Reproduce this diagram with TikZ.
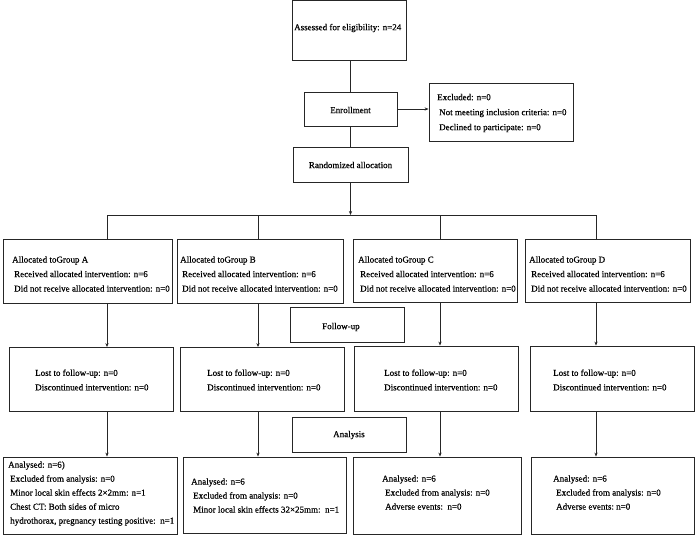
\documentclass[tikz,border=0pt]{standalone}
\usepackage{fontspec}
\setmainfont{Liberation Serif}[FakeBold=0.5]
\usetikzlibrary{arrows.meta}
\begin{document}
\begin{tikzpicture}[x=1pt,y=-1pt,
  box/.style={draw=black!85,line width=0.8pt,inner sep=0pt},
  txt/.style={anchor=west,align=left,inner sep=0pt,font=\fontsize{9}{14.5}\selectfont},
  ln/.style={draw=black!85,line width=0.9pt},
  arr/.style={ln,-{Stealth[length=4pt,width=3.2pt]}}]
\useasboundingbox (0,0) rectangle (696,536);
% top column
\node[box,minimum width=114pt,minimum height=60pt] (assess) at (349,30.5) {};
\node[txt] (tassess) at (294,28) {Assessed for eligibility: n=24};
\node[box,minimum width=93pt,minimum height=34pt] (enroll) at (350.5,109) {};
\node[txt,anchor=center] (tenroll) at (350.5,110) {Enrollment};
\node[box,minimum width=144pt,minimum height=58pt] (excl) at (501,112) {};
\node[txt,font=\fontsize{9}{15}\selectfont] (texcl) at (437,113) {Excluded: n=0\\\hspace*{2pt}Not meeting inclusion criteria: n=0\\\hspace*{2pt}Declined to participate: n=0};
\node[box,minimum width=115pt,minimum height=35pt] (rand) at (350.5,164.5) {};
\node[txt,anchor=center] (trand) at (350.5,165) {Randomized allocation};
\draw[ln] (assess.south -| enroll.north) -- (enroll.north);
\draw[arr] (enroll.east) -- (excl.west |- enroll.east);
\draw[ln] (enroll.south) -- (rand.north -| enroll.south);
% bar
\coordinate (bl) at (107,215);
\coordinate (br) at (596,215);
\coordinate (xA) at (107,0);
\coordinate (xB) at (258,0);
\coordinate (xC) at (440,0);
\coordinate (xD) at (596,0);
\draw[arr] (rand.south) -- (rand.south |- bl);
\draw[ln] (bl) -- (br);
% group boxes
\node[box,minimum width=169pt,minimum height=64pt] (gA) at (87.5,271) {};
\node[box,minimum width=166pt,minimum height=64pt] (gB) at (260,271) {};
\node[box,minimum width=164pt,minimum height=63pt] (gC) at (435,270.5) {};
\node[box,minimum width=165pt,minimum height=63pt] (gD) at (607.5,270.5) {};
\node[txt] (tgA) at (12,274) {Allocated toGroup A\\\hspace*{2pt}Received allocated intervention: n=6\\\hspace*{2pt}Did not receive allocated intervention: n=0};
\node[txt] (tgB) at (180,274) {Allocated toGroup B\\\hspace*{2pt}Received allocated intervention: n=6\\\hspace*{2pt}Did not receive allocated intervention: n=0};
\node[txt] (tgC) at (358,274) {Allocated toGroup C\\\hspace*{2pt}Received allocated intervention: n=6\\\hspace*{2pt}Did not receive allocated intervention: n=0};
\node[txt] (tgD) at (529,274) {Allocated toGroup D\\\hspace*{2pt}Received allocated intervention: n=6\\\hspace*{2pt}Did not receive allocated intervention: n=0};
\draw[ln] (bl) -- (bl |- gA.north);
\draw[ln] (xB |- bl) -- (xB |- gB.north);
\draw[ln] (xC |- bl) -- (xC |- gC.north);
\draw[ln] (br) -- (br |- gD.north);
% follow-up
\node[box,minimum width=114pt,minimum height=35pt] (follow) at (347,324.5) {};
\node[txt] (tfollow) at (322,327) {Follow-up};
% lost boxes
\node[box,minimum width=164pt,minimum height=64pt] (lA) at (91,379.5) {};
\node[box,minimum width=164pt,minimum height=64pt] (lB) at (262,379.5) {};
\node[box,minimum width=164pt,minimum height=65pt] (lC) at (436,378.5) {};
\node[box,minimum width=164pt,minimum height=65pt] (lD) at (612,378.5) {};
\node[txt] (tlA) at (35,380) {Lost to follow-up: n=0\\Discontinued intervention: n=0};
\node[txt] (tlB) at (207,380) {Lost to follow-up: n=0\\Discontinued intervention: n=0};
\node[txt] (tlC) at (384,380) {Lost to follow-up: n=0\\Discontinued intervention: n=0};
\node[txt] (tlD) at (553,380) {Lost to follow-up: n=0\\Discontinued intervention: n=0};
\draw[arr] (xA |- gA.south) -- (xA |- lA.north);
\draw[arr] (xB |- gB.south) -- (xB |- lB.north);
\draw[arr] (xC |- gC.south) -- (xC |- lC.north);
\draw[arr] (xD |- gD.south) -- (xD |- lD.north);
% analysis
\node[box,minimum width=114pt,minimum height=35pt] (analysis) at (349,434.5) {};
\node[txt] (tanalysis) at (333,435) {Analysis};
% analysed boxes
\node[box,minimum width=174pt,minimum height=77pt] (aA) at (90,495.5) {};
\node[box,minimum width=163pt,minimum height=76pt] (aB) at (264.5,495) {};
\node[box,minimum width=168pt,minimum height=77pt] (aC) at (437,495.5) {};
\node[box,minimum width=163pt,minimum height=77pt] (aD) at (612.5,495.5) {};
\node[txt,font=\fontsize{9}{14}\selectfont] (taA) at (8,493.5) {Analysed: n=6)\\\hspace*{2pt}Excluded from analysis: n=0\\\hspace*{2pt}Minor local skin effects 2×2mm: n=1\\\hspace*{2pt}Chest CT: Both sides of micro\\\hspace*{2pt}hydrothorax, pregnancy testing positive:\ \ n=1};
\node[txt,font=\fontsize{9}{14}\selectfont] (taB) at (191,495.5) {Analysed: n=6\\\hspace*{2pt}Excluded from analysis: n=0\\\hspace*{2pt}Minor local skin effects 32×25mm:\ \ n=1};
\node[txt,font=\fontsize{9}{14}\selectfont] (taC) at (382,492.5) {Analysed: n=6\\\hspace*{3pt}Excluded from analysis: n=0\\\hspace*{3pt}Adverse events:\ \ n=0};
\node[txt,font=\fontsize{9}{14}\selectfont] (taD) at (553,492.5) {Analysed: n=6\\\hspace*{3pt}Excluded from analysis: n=0\\\hspace*{3pt}Adverse events:\ n=0};
\draw[arr] (xA |- lA.south) -- (xA |- aA.north);
\draw[arr] (xB |- lB.south) -- (xB |- aB.north);
\draw[arr] (xC |- lC.south) -- (xC |- aC.north);
\draw[arr] (xD |- lD.south) -- (xD |- aD.north);
\end{tikzpicture}
\end{document}
